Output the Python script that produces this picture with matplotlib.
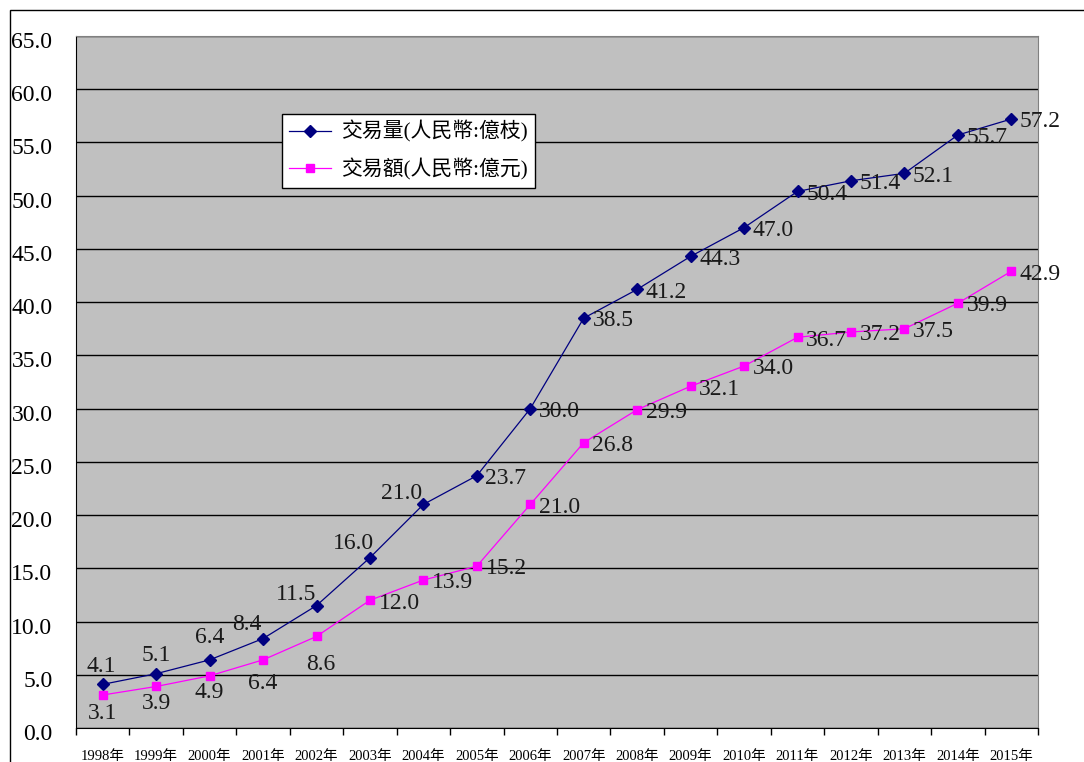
import matplotlib
matplotlib.use('Agg')
import matplotlib.pyplot as plt
import matplotlib.transforms as mtransforms
from matplotlib.patches import Rectangle

plt.rcParams['font.family'] = ['Liberation Serif', 'Noto Sans CJK TC']

years = ['1998年', '1999年', '2000年', '2001年', '2002年', '2003年', '2004年', '2005年', '2006年',
         '2007年', '2008年', '2009年', '2010年', '2011年', '2012年', '2013年', '2014年', '2015年']
volume = [4.1, 5.1, 6.4, 8.4, 11.5, 16.0, 21.0, 23.7, 30.0,
          38.5, 41.2, 44.3, 47.0, 50.4, 51.4, 52.1, 55.7, 57.2]
amount = [3.1, 3.9, 4.9, 6.4, 8.6, 12.0, 13.9, 15.2, 21.0,
          26.8, 29.9, 32.1, 34.0, 36.7, 37.2, 37.5, 39.9, 42.9]
series_names = ['交易量(人民幣:億枝)', '交易額(人民幣:億元)']

# label offsets in points (dx, dy) relative to each marker
vol_off = [(-1, 13), (0, 13), (0, 16), (-12, 10), (-15, 8), (-12, 10), (-16, 8)] + [(21, -2)] * 11
amt_off = [(0, -13), (0, -12), (0, -12), (0, -17), (3, -20)] + [(21, -2)] * 13

fig = plt.figure(figsize=(10.84, 7.62), dpi=100)
ax = fig.add_axes([76 / 1084, 34 / 762, 962 / 1084, 692 / 762])
ax.set_facecolor('#C0C0C0')

x = list(range(len(years)))
ax.plot(x, volume, color='#000080', lw=0.9, marker='D', ms=6, label=series_names[0])
ax.plot(x, amount, color='#FF00FF', lw=0.9, marker='s', ms=6, label=series_names[1])

for i in x:
    ax.annotate(f'{volume[i]:.1f}', (i, volume[i]), xytext=vol_off[i], textcoords='offset points',
                ha='center', va='center', fontsize=17, color='#1a1a1a')
    ax.annotate(f'{amount[i]:.1f}', (i, amount[i]), xytext=amt_off[i], textcoords='offset points',
                ha='center', va='center', fontsize=17, color='#1a1a1a')

ax.set_xlim(-0.5, len(years) - 0.5)
ax.set_ylim(0, 65)
ax.set_yticks([v * 5 for v in range(14)])
ax.set_yticklabels([f'{v * 5:.1f}' for v in range(14)], fontsize=17)
ax.yaxis.grid(True, color='black', lw=1)
ax.set_axisbelow(True)
ax.tick_params(axis='y', length=0, pad=17)
off = mtransforms.ScaledTranslation(0, -4 / 100, fig.dpi_scale_trans)
for lab in ax.get_yticklabels():
    lab.set_transform(lab.get_transform() + off)

ax.set_xticks(x)
ax.set_xticklabels(years, fontsize=10.5)
ax.set_xticks([i - 0.5 for i in range(len(years) + 1)], minor=True)
ax.tick_params(axis='x', which='major', length=0, pad=16)
ax.tick_params(axis='x', which='minor', length=5, direction='out', width=1)

for s in ['top', 'right']:
    ax.spines[s].set_color('#808080')
ax.spines['left'].set_color('black')
ax.spines['bottom'].set_color('black')

leg = ax.legend(loc='upper left', bbox_to_anchor=(0.214, 0.888), fontsize=15, frameon=True,
                fancybox=False, edgecolor='black', framealpha=1, handlelength=2.0,
                borderpad=0.35, labelspacing=0.75, handletextpad=0.5, borderaxespad=0)
leg.get_frame().set_linewidth(1)

fig.patches.append(Rectangle((10 / 1084, -0.1), 1.2, 752 / 762 + 0.1, transform=fig.transFigure,
                             fill=False, edgecolor='black', lw=1))

fig.savefig('out.png', dpi=100)
